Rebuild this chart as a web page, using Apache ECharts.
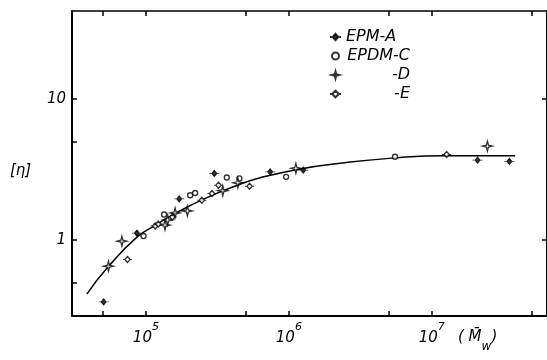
<!DOCTYPE html>
<html>
<head>
<meta charset="utf-8">
<script src="https://cdn.jsdelivr.net/npm/echarts@6/dist/echarts.min.js"></script>
<style>
  html, body { margin: 0; padding: 0; background: #fff; }
  #main { width: 547px; height: 360px; }
</style>
</head>
<body>
<div id="main"></div>
<script>
// [Mw, [eta]]
const epmA = [[5.06e4, 0.365], [8.65e4, 1.12], [1.71e5, 1.96], [3.01e5, 2.97], [7.4e5, 3.05], [1.26e6, 3.14], [2.09e7, 3.69], [3.49e7, 3.62]];
const epdmC = [[9.62e4, 1.07], [1.34e5, 1.52], [2.04e5, 2.08], [2.21e5, 2.16], [3.68e5, 2.78], [4.51e5, 2.74], [9.57e5, 2.81], [5.53e6, 3.9]];
const epdmD = [[5.47e4, 0.654], [6.79e4, 0.984], [1.36e5, 1.28], [1.42e5, 1.39], [1.6e5, 1.56], [1.95e5, 1.61], [3.45e5, 2.24], [4.4e5, 2.55], [1.12e6, 3.23], [2.45e7, 4.64]];
const epdmE = [[7.43e4, 0.73], [1.16e5, 1.26], [1.22e5, 1.3], [1.53e5, 1.46], [2.46e5, 1.92], [2.9e5, 2.14], [3.22e5, 2.45], [5.31e5, 2.41], [1.27e7, 4.05]];
// fitted curve, points
const curve = [[3.86e4, 0.414], [5.42e4, 0.644], [8.65e4, 1.05], [1.16e5, 1.273], [1.56e5, 1.524], [2.67e5, 2.0], [4.56e5, 2.49], [6.3e5, 2.77], [1.2e6, 3.2], [2.28e6, 3.51], [5.53e6, 3.83], [1.27e7, 3.97], [3.83e7, 3.97]];

const seriesNames = ["EPM-A", "EPDM-C", "-D", "-E"];
const xTicks = [5e4, 1e5, 5e5, 1e6, 5e6, 1e7, 5e7];
const xLabels = [1e5, 1e6, 1e7];
const yTicks = [0.5, 1, 5, 10];
const yLabels = [1, 10];

const FONT = "DejaVu Sans";
const chart = echarts.init(document.getElementById("main"), null, { renderer: "canvas" });

const symA = "path://M0 5H2.5L5 2L7.5 5H10H7.5L5 8L2.5 5Z";
const symD = "path://M5 0L6 4L10 5L6 6L5 10L4 6L0 5L4 4Z";
const symE = "path://M0 5H2L5 2L8 5H10H8L5 8L2 5Z";

const supLabel = (v) => "{b|10}{s|" + Math.round(Math.log10(v)) + "}";

const axisBase = {
  type: "log",
  logBase: 10,
  splitLine: { show: false },
  axisLine: { onZero: false, lineStyle: { color: "#000", width: 2 } },
};

const legendText = { fontFamily: FONT, fontStyle: "italic", fontSize: 16, color: "#000", width: 64 };

const option = {
  animation: false,
  backgroundColor: "#fff",
  grid: { left: 72, right: 0, top: 11, bottom: 44 },
  xAxis: [
    {
      ...axisBase,
      position: "bottom",
      min: 3.04e4,
      max: 6.4e7,
      axisTick: { inside: true, length: 5, customValues: xTicks, lineStyle: { color: "#000", width: 1.5 } },
      axisLabel: {
        customValues: xLabels,
        margin: 6,
        formatter: supLabel,
        rich: {
          b: { fontFamily: FONT, fontStyle: "italic", fontSize: 15, color: "#000", lineHeight: 24, verticalAlign: "bottom" },
          s: { fontFamily: FONT, fontStyle: "italic", fontSize: 11, color: "#000", lineHeight: 24, verticalAlign: "top" },
        },
      },
    },
    {
      ...axisBase,
      position: "top",
      min: 3.04e4,
      max: 6.4e7,
      axisLine: { onZero: false, lineStyle: { color: "#000", width: 1.5 } },
      axisTick: { inside: true, length: 5, customValues: xTicks, lineStyle: { color: "#000", width: 1.5 } },
      axisLabel: { show: false },
    },
  ],
  yAxis: [
    {
      ...axisBase,
      position: "left",
      min: 0.29,
      max: 42.1,
      axisTick: { inside: true, length: 5, customValues: yTicks, lineStyle: { color: "#000", width: 1.5 } },
      axisLabel: {
        customValues: yLabels,
        margin: 6,
        fontFamily: FONT,
        fontStyle: "italic",
        fontSize: 15,
        color: "#000",
      },
    },
    {
      ...axisBase,
      position: "right",
      min: 0.29,
      max: 42.1,
      axisTick: { inside: true, length: 5, customValues: yLabels, lineStyle: { color: "#000", width: 1.5 } },
      axisLabel: { show: false },
    },
  ],
  legend: {
    data: seriesNames,
    orient: "vertical",
    left: 324,
    top: 24,
    itemWidth: 11,
    itemHeight: 7,
    itemGap: 3,
    formatter: (name) => (name === "EPM-A" ? "{l|" + name + "}" : "{r|" + name + "}"),
    textStyle: {
      fontFamily: FONT,
      fontStyle: "italic",
      fontSize: 16,
      color: "#000",
      rich: {
        l: { ...legendText, align: "left" },
        r: { ...legendText, align: "right" },
      },
    },
  },
  graphic: [
    {
      type: "text",
      left: 10,
      top: 164,
      style: { text: "[η]", font: "italic 15px 'DejaVu Sans'", fill: "#000" },
    },
    {
      type: "text",
      left: 458,
      top: 330,
      style: {
        text: "{p|( }{m|M\u0304}{w|w}{p|)}",
        rich: {
          p: { fontFamily: FONT, fontStyle: "italic", fontSize: 15, fill: "#000", lineHeight: 23, verticalAlign: "top" },
          m: { fontFamily: FONT, fontStyle: "italic", fontSize: 15, fill: "#000", lineHeight: 23, verticalAlign: "top" },
          w: { fontFamily: FONT, fontStyle: "italic", fontSize: 12, fill: "#000", lineHeight: 23, verticalAlign: "bottom" },
        },
      },
    },
  ],
  series: [
    {
      name: "fit",
      type: "line",
      data: curve,
      smooth: true,
      symbol: "none",
      lineStyle: { color: "#000", width: 1.5 },
      silent: true,
      z: 1,
    },
    {
      name: seriesNames[0],
      type: "scatter",
      data: epmA,
      symbol: symA,
      symbolSize: [10, 6],
      itemStyle: { color: "#000", borderColor: "#000", borderWidth: 1 },
      z: 3,
    },
    {
      name: seriesNames[1],
      type: "scatter",
      data: epdmC,
      symbol: "circle",
      symbolSize: 5,
      itemStyle: { color: "#fff", borderColor: "#000", borderWidth: 1.4 },
      z: 3,
    },
    {
      name: seriesNames[2],
      type: "scatter",
      data: epdmD,
      symbol: symD,
      symbolSize: 10,
      itemStyle: { color: "#fff", borderColor: "#000", borderWidth: 1.3 },
      z: 3,
    },
    {
      name: seriesNames[3],
      type: "scatter",
      data: epdmE,
      symbol: symE,
      symbolSize: [9, 6],
      itemStyle: { color: "#fff", borderColor: "#000", borderWidth: 1.3 },
      z: 3,
    },
  ],
};

chart.setOption(option);
</script>
</body>
</html>
